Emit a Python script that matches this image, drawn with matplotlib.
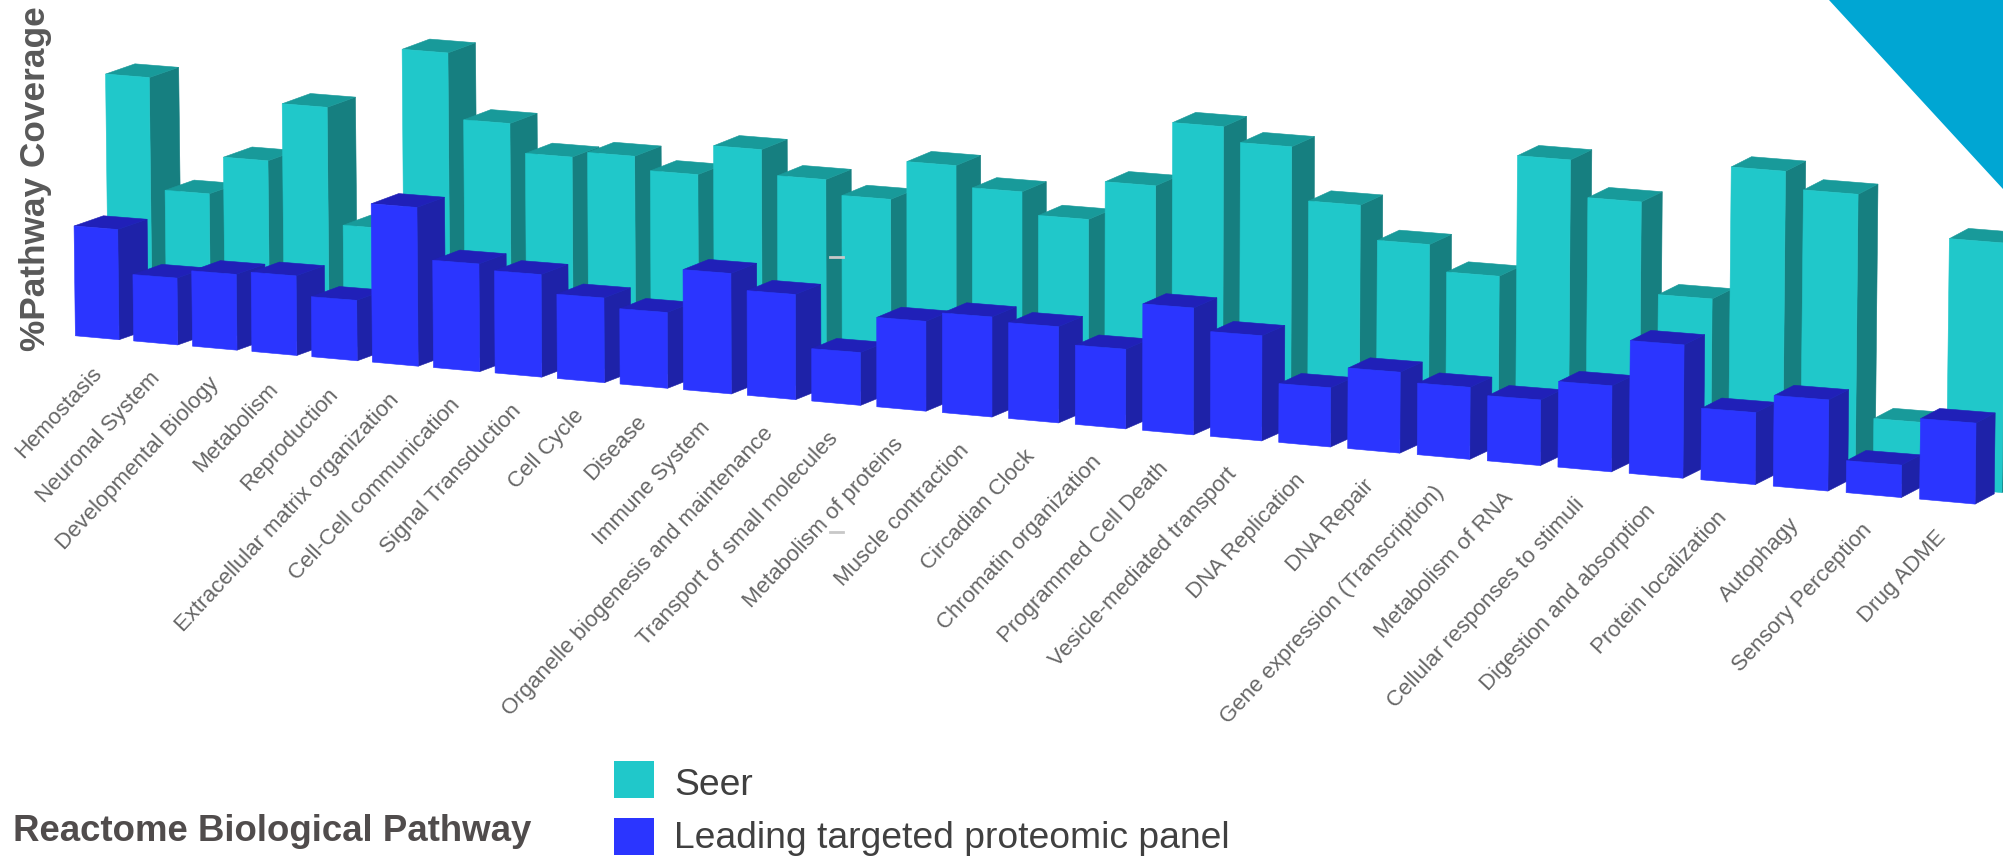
import matplotlib
matplotlib.use('Agg')
import matplotlib.pyplot as plt
from matplotlib.patches import Polygon, Rectangle

plt.rcParams['font.family'] = ['Liberation Sans', 'DejaVu Sans']

pathways = ['Hemostasis', 'Neuronal System', 'Developmental Biology', 'Metabolism', 'Reproduction',
            'Extracellular matrix organization', 'Cell-Cell communication', 'Signal Transduction',
            'Cell Cycle', 'Disease', 'Immune System', 'Organelle biogenesis and maintenance',
            'Transport of small molecules', 'Metabolism of proteins', 'Muscle contraction',
            'Circadian Clock', 'Chromatin organization', 'Programmed Cell Death',
            'Vesicle-mediated transport', 'DNA Replication', 'DNA Repair',
            'Gene expression (Transcription)', 'Metabolism of RNA', 'Cellular responses to stimuli',
            'Digestion and absorption', 'Protein localization', 'Autophagy', 'Sensory Perception',
            'Drug ADME']

# bar heights, no scale is printed on the chart
seer = [196, 109, 139, 185, 94, 236, 185, 163, 168, 158, 182, 163, 152, 183, 167,
        150, 181, 232, 221, 180, 154, 134, 230, 202, 131, 236, 223, 49, 195]
panel = [86, 52, 59, 62, 47, 124, 84, 80, 66, 59, 94, 82, 41, 70, 78,
         75, 62, 99, 82, 46, 63, 56, 51, 67, 104, 56, 71, 25, 63]

n = len(pathways)


def slot_x(i):
    # slots get wider to the right, the chart is seen in perspective
    return 59 + 45.4 * i + 0.22 * i ** 2


def slot_w(i):
    return 0.75 * (45.4 + 0.22 * (2 * i + 1))


def base_y(x):
    return 263 + 0.0886 * (x - 59)


def draw_bar(ax, i, h, shift_x, shift_y, front, side, top):
    x = slot_x(i) + shift_x
    y = base_y(slot_x(i)) + shift_y
    w = slot_w(i)
    lean = (2 * i / (n - 1) - 1) * 0.012 * h
    depth_x = 23 - 8 * i / (n - 1)
    depth_y = 8
    bl = (x, y)
    br = (x + w, y + w * 0.09)
    tl = (x + lean, y - h)
    tr = (x + w + lean, y - h + w * 0.08)
    btr = (tr[0] + depth_x, tr[1] - depth_y)
    btl = (tl[0] + depth_x, tl[1] - depth_y)
    bbr = (br[0] + depth_x, br[1] - depth_y)
    ax.add_patch(Polygon([br, tr, btr, bbr], closed=True, fc=side, ec=side, lw=0.4))
    ax.add_patch(Polygon([tl, tr, btr, btl], closed=True, fc=top, ec=top, lw=0.4))
    ax.add_patch(Polygon([bl, br, tr, tl], closed=True, fc=front, ec=front, lw=0.4))


fig = plt.figure(figsize=(20.03, 8.58), dpi=100)
ax = fig.add_axes([0, 0, 1, 1])
ax.set_xlim(0, 1568)
ax.set_ylim(672, 0)
ax.axis('off')

# corner decoration
ax.add_patch(Polygon([(1432, 0), (1568, 0), (1568, 148)], closed=True, fc='#00A6D3', ec='none'))

for i in range(n):
    draw_bar(ax, i, seer[i], 26 - 5 * i / (n - 1), -9, '#20C8CA', '#167F80', '#189A9A')
for i in range(n):
    draw_bar(ax, i, panel[i], 0, 0, '#2B35FF', '#1E22A8', '#2020B8')

# stray dashes that are in the picture
ax.plot([650, 660], [201, 201], color='#C8C8C8', lw=2)
ax.plot([650, 660], [417, 417], color='#C8C8C8', lw=2)

for i, name in enumerate(pathways):
    ax.text(slot_x(i) + 18, base_y(slot_x(i)) + 27, name, rotation=47, rotation_mode='anchor',
            ha='right', va='center', fontsize=16, color='#666666')

ax.text(28, 140, '%Pathway Coverage', rotation=90, ha='center', va='center',
        fontsize=25.4, fontweight='bold', color='#595959')
ax.text(10, 651, 'Reactome Biological Pathway', ha='left', va='center',
        fontsize=26.4, fontweight='bold', color='#504C4C')

ax.add_patch(Rectangle((481, 596), 31, 29, fc='#20C8CA', ec='none'))
ax.add_patch(Rectangle((481, 641), 31, 29, fc='#2B35FF', ec='none'))
ax.text(528, 615, 'Seer', ha='left', va='center', fontsize=26.8, color='#404040')
ax.text(528, 657, 'Leading targeted proteomic panel', ha='left', va='center', fontsize=26.8, color='#404040')

fig.savefig('out.png', dpi=100)
